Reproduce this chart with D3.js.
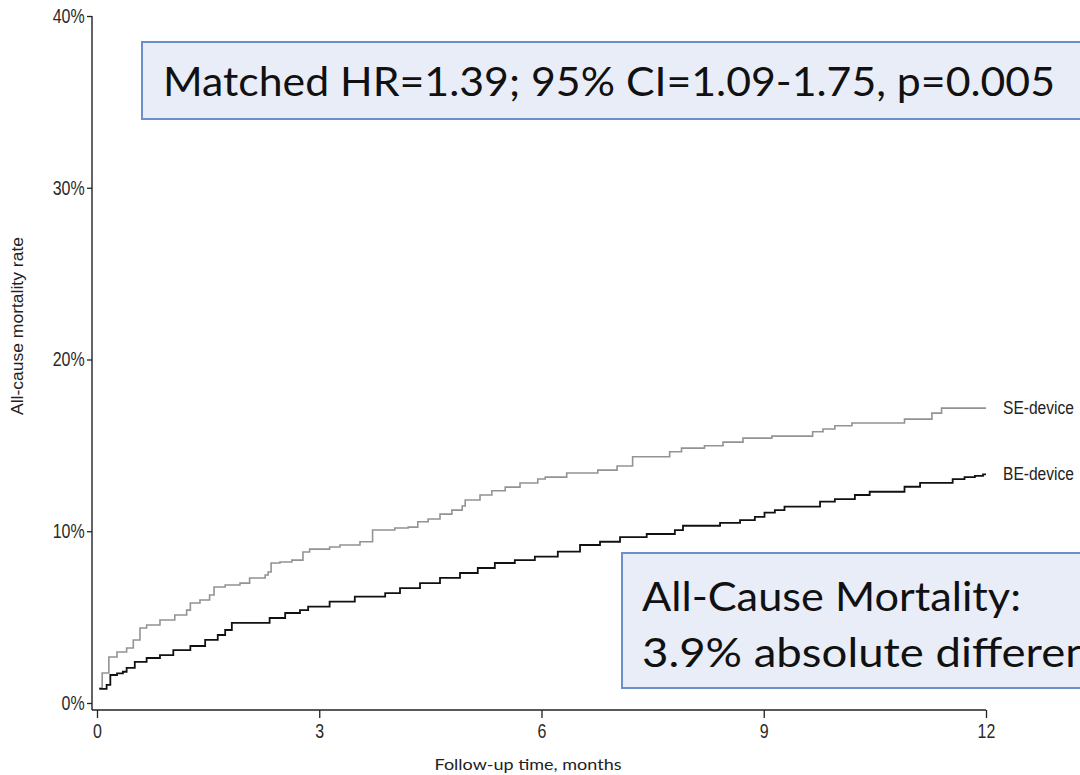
<!DOCTYPE html>
<html>
<head>
<meta charset="utf-8">
<script src="https://cdn.jsdelivr.net/npm/d3@7"></script>
<style>
  html, body { margin: 0; padding: 0; background: #fff; }
  svg { display: block; }
</style>
</head>
<body>
<svg id="chart" width="1080" height="775"></svg>
<script>
// Cumulative all-cause mortality (%) by follow-up month, step points (time, rate)
const seTime = [0.03,0.07,0.16,0.27,0.40,0.49,0.58,0.67,0.85,1.05,1.21,1.26,1.39,1.52,1.58,1.73,1.93,2.06,2.27,2.31,2.35,2.47,2.63,2.78,2.87,3.14,3.28,3.55,3.72,4.02,4.20,4.33,4.47,4.63,4.79,4.93,4.97,5.17,5.33,5.51,5.71,5.95,6.05,6.34,6.76,7.02,7.23,7.73,7.89,8.20,8.45,8.72,9.11,9.66,9.80,9.96,10.19,10.90,11.27,11.40,12.0];
const seRate = [0.87,1.75,2.68,2.97,3.20,3.67,4.37,4.54,4.83,5.12,5.41,5.82,6.00,6.29,6.75,6.87,6.98,7.28,7.45,7.63,8.15,8.21,8.32,8.79,8.96,9.08,9.20,9.39,10.07,10.19,10.24,10.55,10.71,11.00,11.23,11.47,11.82,12.11,12.36,12.57,12.81,13.04,13.15,13.39,13.56,13.80,14.34,14.63,14.84,14.98,15.19,15.42,15.54,15.79,15.95,16.14,16.30,16.53,16.88,17.17,17.17];

const beTime = [0.03,0.13,0.18,0.27,0.35,0.40,0.51,0.67,0.85,1.03,1.26,1.46,1.63,1.73,1.82,2.33,2.54,2.74,2.85,3.14,3.48,3.89,4.09,4.36,4.63,4.90,5.14,5.37,5.64,5.91,6.22,6.52,6.79,7.06,7.42,7.80,7.91,8.41,8.68,8.88,9.01,9.15,9.28,9.76,9.96,10.23,10.43,10.90,11.11,11.55,11.71,11.85,11.96,12.0];
const beRate = [0.82,1.05,1.63,1.73,1.82,2.04,2.40,2.62,2.79,3.08,3.32,3.67,3.96,4.25,4.66,4.95,5.24,5.41,5.61,5.90,6.19,6.40,6.69,6.98,7.28,7.57,7.86,8.15,8.32,8.52,8.81,9.20,9.39,9.66,9.84,10.07,10.32,10.49,10.65,10.84,11.08,11.23,11.43,11.72,11.87,12.11,12.30,12.59,12.82,13.04,13.15,13.23,13.31,13.31];

const seriesNames = ["SE-device", "BE-device"];
const xTicks = [0, 3, 6, 9, 12];
const yTicks = [0, 10, 20, 30, 40];
const annotationTop = ["Matched HR=1.39; 95% CI=1.09-1.75, p=0.005"];
const annotationBottom = ["All-Cause Mortality:", "3.9% absolute difference"];

const svg = d3.select("#chart");
const x = d3.scaleLinear().domain([0, 12]).range([97, 986]);
const y = d3.scaleLinear().domain([0, 40]).range([703, 16]);
const axisY = 710;   // baseline of the x axis
const axisX = 92;    // position of the y axis
const narrow = 0.82; // horizontal squeeze for the condensed label face
const labelFont = "'Liberation Sans', Arial, sans-serif";
const boxFont = "Lato, 'Open Sans', sans-serif";

// y axis
const gy = svg.append("g").attr("transform", `translate(${axisX},0)`)
  .call(d3.axisLeft(y).tickValues(yTicks).tickFormat(d => d + "%").tickSize(5).tickPadding(4));
gy.select(".domain").remove();
gy.selectAll(".tick line").attr("stroke", "#222").attr("stroke-width", 1.3);
gy.selectAll(".tick text")
  .attr("font-family", labelFont).attr("font-size", 19.5).attr("fill", "#2a2a2a")
  .attr("transform", `scale(${narrow},1)`);
svg.append("line").attr("x1", axisX).attr("x2", axisX)
  .attr("y1", y(40)).attr("y2", axisY).attr("stroke", "#222").attr("stroke-width", 1.4);

// x axis
const gx = svg.append("g").attr("transform", `translate(0,${axisY})`)
  .call(d3.axisBottom(x).tickValues(xTicks).tickFormat(d3.format("d")).tickSize(8).tickPadding(6));
gx.select(".domain").remove();
gx.selectAll(".tick line").attr("stroke", "#222").attr("stroke-width", 1.3);
gx.selectAll(".tick text")
  .attr("font-family", labelFont).attr("font-size", 19.5).attr("fill", "#2a2a2a")
  .attr("transform", `scale(${narrow},1)`);
svg.append("line").attr("x1", axisX).attr("x2", x(12))
  .attr("y1", axisY).attr("y2", axisY).attr("stroke", "#222").attr("stroke-width", 1.4);

// axis titles
svg.append("text")
  .attr("transform", `translate(23,326) rotate(-90)`)
  .attr("text-anchor", "middle")
  .attr("font-family", labelFont).attr("font-size", 16).attr("fill", "#222")
  .attr("textLength", 178).attr("lengthAdjust", "spacingAndGlyphs")
  .text("All-cause mortality rate");
svg.append("text")
  .attr("x", 528).attr("y", 770)
  .attr("text-anchor", "middle")
  .attr("font-family", boxFont).attr("font-size", 16).attr("fill", "#222")
  .attr("textLength", 187).attr("lengthAdjust", "spacingAndGlyphs")
  .text("Follow-up time, months");

// Kaplan-Meier style step curves
const line = d3.line().x(d => x(d[0])).y(d => y(d[1])).curve(d3.curveStepAfter);
const seData = d3.zip(seTime, seRate);
const beData = d3.zip(beTime, beRate);
svg.append("path").datum(seData).attr("d", line)
  .attr("fill", "none").attr("stroke", "#939393").attr("stroke-width", 1.6);
svg.append("path").datum(beData).attr("d", line)
  .attr("fill", "none").attr("stroke", "#111").attr("stroke-width", 1.8);

// end-of-curve series labels
const ends = [seData[seData.length - 1], beData[beData.length - 1]];
seriesNames.forEach((name, i) => {
  svg.append("text")
    .attr("transform", `translate(1003,${y(ends[i][1]) + 6}) scale(${narrow},1)`)
    .attr("font-family", labelFont).attr("font-size", 19).attr("fill", "#222")
    .text(name);
});

// annotation boxes (they run past the right edge of the canvas)
const boxFill = "#e9edf8", boxStroke = "#6a8fcb";
svg.append("rect").attr("x", 142).attr("y", 42).attr("width", 1000).attr("height", 77)
  .attr("fill", boxFill).attr("stroke", boxStroke).attr("stroke-width", 2);
svg.append("text").attr("x", 163).attr("y", 96)
  .attr("font-family", boxFont).attr("font-size", 41).attr("fill", "#111")
  .attr("textLength", 892).attr("lengthAdjust", "spacingAndGlyphs")
  .text(annotationTop[0]);

svg.append("rect").attr("x", 622).attr("y", 553).attr("width", 600).attr("height", 135)
  .attr("fill", boxFill).attr("stroke", boxStroke).attr("stroke-width", 2);
const lineLengths = [379, 494];
annotationBottom.forEach((t, i) => {
  svg.append("text").attr("x", 642).attr("y", 611 + i * 56)
    .attr("font-family", boxFont).attr("font-size", 41).attr("fill", "#111")
    .attr("textLength", lineLengths[i]).attr("lengthAdjust", "spacingAndGlyphs")
    .text(t);
});
</script>
</body>
</html>
